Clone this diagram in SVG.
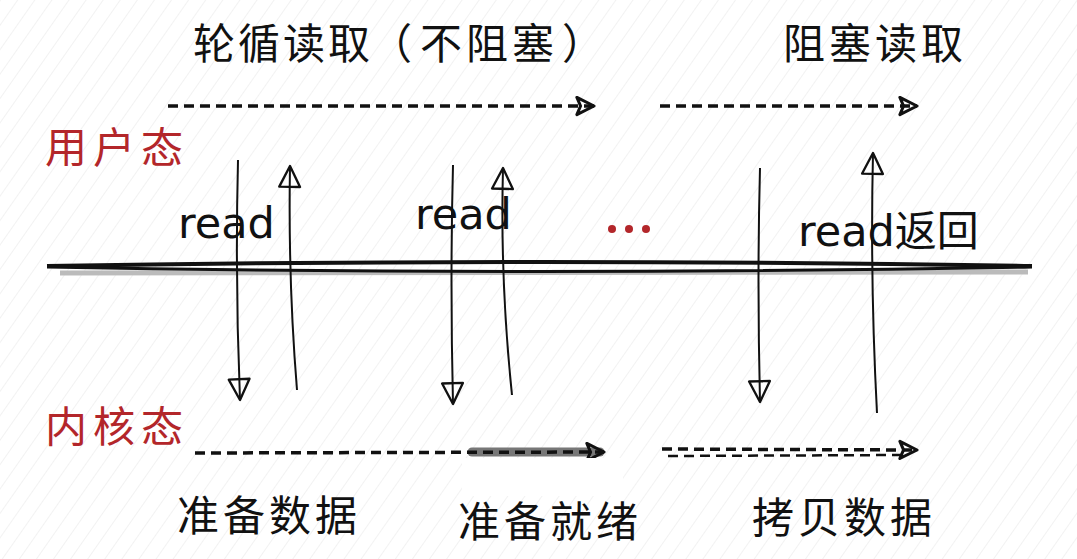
<svg xmlns="http://www.w3.org/2000/svg" width="1077" height="559" viewBox="0 0 1077 559">
<defs>
<pattern id="hatch" width="14" height="14" patternUnits="userSpaceOnUse" patternTransform="rotate(35)">
<line x1="0" y1="0" x2="0" y2="14" stroke="#e6e6e6" stroke-width="1"/>
</pattern>
<marker id="tri" viewBox="0 0 18 18" refX="16" refY="9" markerWidth="22" markerHeight="22" markerUnits="userSpaceOnUse" orient="auto">
<path d="M2,2 L16,9 L2,16 L5,9 Z" fill="none" stroke="#111" stroke-width="2.5" stroke-linejoin="round"/>
</marker>
<marker id="triV" viewBox="0 0 20 20" refX="18" refY="10" markerWidth="26" markerHeight="26" markerUnits="userSpaceOnUse" orient="auto">
<path d="M2,2 L18,10 L2,18 Z" fill="none" stroke="#111" stroke-width="1.8" stroke-linejoin="round"/>
</marker>
</defs>
<style>
.t{font-family:"Noto Sans CJK SC","Noto Sans",sans-serif;font-size:42px;fill:#111}
.r{font-family:"Noto Sans CJK SC","Noto Sans",sans-serif;font-size:42px;fill:#b3262a}
.rd{font-family:"DejaVu Sans","Noto Sans CJK SC",sans-serif;font-size:43px;fill:#111}
.dash{fill:none;stroke:#111;stroke-width:3.5;stroke-dasharray:10 6;marker-end:url(#tri)}
.v{fill:none;stroke:#111;stroke-width:2;marker-end:url(#triV)}
</style>
<rect width="1077" height="559" fill="#fff"/>
<rect width="1077" height="559" fill="url(#hatch)"/>

<g id="titles">
<text class="t" x="193 238 283 328 370 420 466 512 562" y="59">轮循读取（不阻塞）</text>
<text class="t" x="783" y="59" letter-spacing="4">阻塞读取</text>
</g>
<g id="user-mode"><text class="r" x="45" y="163" letter-spacing="6">用户态</text></g>
<g id="kernel-mode"><text class="r" x="45" y="442" letter-spacing="6">内核态</text></g>

<g id="boundary">
<path d="M60,273 L1028,272" stroke="#bbb" stroke-width="5" fill="none"/>
<path d="M47,266 Q540,258 1032,266" stroke="#111" stroke-width="4" fill="none"/>
<path d="M47,267 Q540,276 1032,267" stroke="#111" stroke-width="3" fill="none"/>
</g>

<g id="connectors">
<path class="dash" d="M168,106 L594,106"/>
<path class="dash" d="M660,106 L917,106"/>
<path d="M472,452 L600,452" stroke="#777" stroke-width="9" stroke-linecap="round" fill="none"/>
<path class="dash" d="M195,453 L604,452"/>
<path class="dash" d="M662,449 L917,450" stroke-width="2.5"/>
<path d="M668,456 L905,455" fill="none" stroke="#111" stroke-width="2.5" stroke-dasharray="10 6"/>
<path class="v" d="M238,160 Q235,280 240,400"/>
<path class="v" d="M297,390 Q288,280 290,166"/>
<path class="v" d="M453,165 Q450,280 453,404"/>
<path class="v" d="M512,395 Q500,280 503,168"/>
<path class="v" d="M760,168 Q757,280 760,402"/>
<path class="v" d="M877,413 Q870,280 873,153"/>
</g>

<g id="read1"><text class="rd" x="178" y="238">read</text></g>
<g id="read2"><text class="rd" x="415" y="229">read</text></g>
<g id="read3"><text class="rd" x="798" y="246">read<tspan class="t" style="font-size:42px">返回</tspan></text></g>
<g id="dots">
<circle cx="612" cy="229" r="4" fill="#b3262a"/>
<circle cx="629" cy="229" r="4" fill="#b3262a"/>
<circle cx="646" cy="229" r="4" fill="#b3262a"/>
</g>

<rect x="462" y="458" width="161" height="38" fill="#fff"/>
<g id="prepare"><text class="t" x="177" y="531" letter-spacing="4">准备数据</text></g>
<g id="ready"><text class="t" x="458" y="537" letter-spacing="4">准备就绪</text></g>
<g id="copy"><text class="t" x="752" y="533" letter-spacing="4">拷贝数据</text></g>
</svg>
